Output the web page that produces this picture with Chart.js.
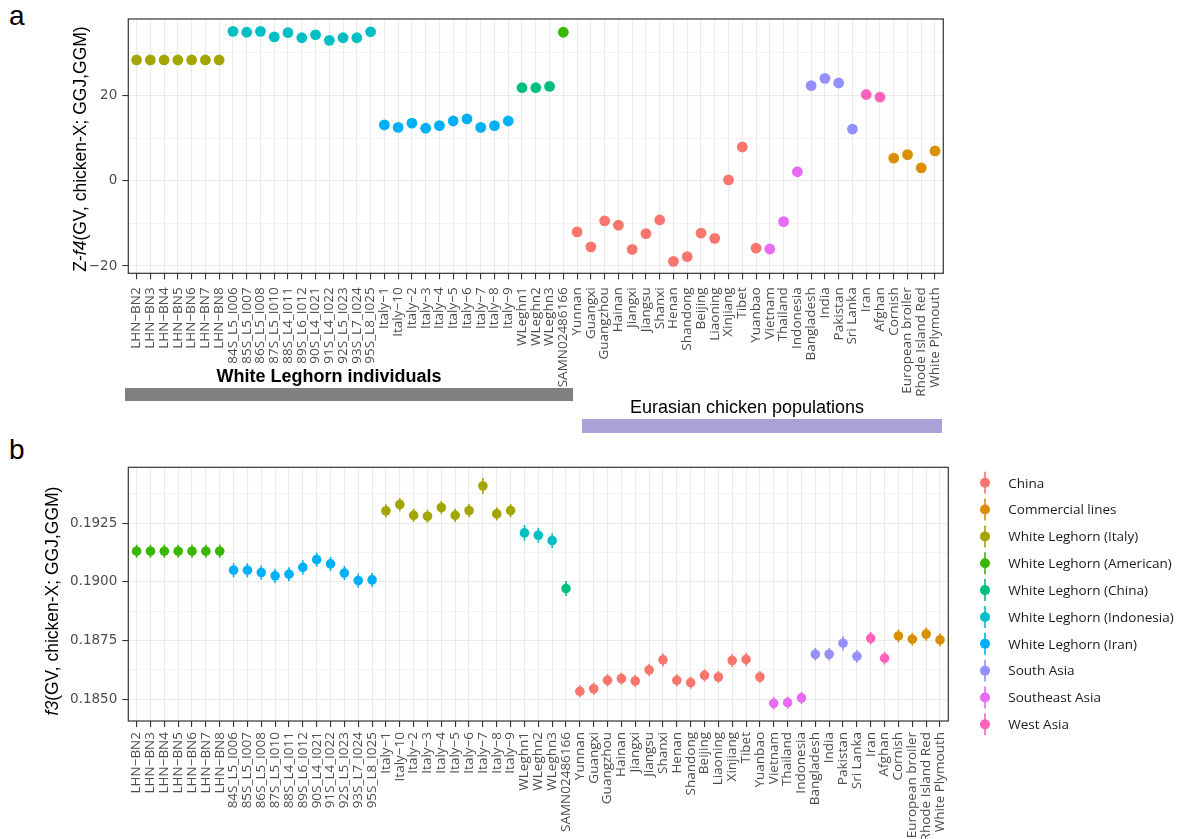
<!DOCTYPE html>
<html>
<head>
<meta charset="utf-8">
<script src="https://cdn.jsdelivr.net/npm/chart.js@4.4.1/dist/chart.umd.min.js"></script>
<style>
  html, body { margin: 0; padding: 0; background: #fff; }
  body { width: 1185px; height: 839px; position: relative; overflow: hidden;
         font-family: "Liberation Sans", Arial, sans-serif; }
  canvas { position: absolute; left: 0; }
  #chartA { top: 0; }
  #chartB { top: 430px; }
  .tag { position: absolute; font-size: 28px; line-height: 1; color: #000; }
  .band { position: absolute; }
  .band-label { position: absolute; font-size: 18px; line-height: 1; white-space: nowrap;
                transform: translateX(-50%); color: #000; }
</style>
</head>
<body>
<div class="tag" style="left:9px; top:2px;">a</div>
<div class="tag" style="left:9px; top:436px;">b</div>

<canvas id="chartA" width="1185" height="440"></canvas>
<canvas id="chartB" width="1185" height="409"></canvas>

<div class="band-label" style="left:329px; top:367px; font-weight:bold;">White Leghorn individuals</div>
<div class="band" style="left:125px; top:388px; width:448px; height:13px; background:#808080;"></div>
<div class="band-label" style="left:747px; top:398px;">Eurasian chicken populations</div>
<div class="band" style="left:582px; top:419px; width:360px; height:14px; background:#A9A2D6;"></div>

<script>
// ---- categories along the x axis ----
const categories = [
  'LHN−BN2','LHN−BN3','LHN−BN4','LHN−BN5','LHN−BN6','LHN−BN7','LHN−BN8',
  '84S_L5_I006','85S_L5_I007','86S_L5_I008','87S_L5_I010','88S_L4_I011','89S_L6_I012',
  '90S_L4_I021','91S_L4_I022','92S_L5_I023','93S_L7_I024','95S_L8_I025',
  'Italy−1','Italy−10','Italy−2','Italy−3','Italy−4','Italy−5','Italy−6','Italy−7','Italy−8','Italy−9',
  'WLeghn1','WLeghn2','WLeghn3','SAMN02486166',
  'Yunnan','Guangxi','Guangzhou','Hainan','Jiangxi','Jiangsu','Shanxi','Henan','Shandong',
  'Beijing','Liaoning','Xinjiang','Tibet','Yuanbao',
  'Vietnam','Thailand','Indonesia',
  'Bangladesh','India','Pakistan','Sri Lanka',
  'Iran','Afghan',
  'Cornish','European broiler','Rhode Island Red','White Plymouth'
];

// ---- groups (legend order) and their colours ----
const groupKeys   = ['CN','CL','WLIT','WLAM','WLCN','WLID','WLIR','SA','SEA','WA'];
const groupNames  = ['China','Commercial lines','White Leghorn (Italy)','White Leghorn (American)',
                     'White Leghorn (China)','White Leghorn (Indonesia)','White Leghorn (Iran)',
                     'South Asia','Southeast Asia','West Asia'];
const groupColors = ['#F8766D','#D89000','#A3A500','#39B600','#00BF7D','#00BFC4','#00B0F6',
                     '#9590FF','#E76BF3','#FF62BC'];

// group of each category, panel a
const groupA = [
  'WLIT','WLIT','WLIT','WLIT','WLIT','WLIT','WLIT',
  'WLID','WLID','WLID','WLID','WLID','WLID','WLID','WLID','WLID','WLID','WLID',
  'WLIR','WLIR','WLIR','WLIR','WLIR','WLIR','WLIR','WLIR','WLIR','WLIR',
  'WLCN','WLCN','WLCN','WLAM',
  'CN','CN','CN','CN','CN','CN','CN','CN','CN','CN','CN','CN','CN','CN',
  'SEA','SEA','SEA',
  'SA','SA','SA','SA',
  'WA','WA',
  'CL','CL','CL','CL'
];
// group of each category, panel b
const groupB = [
  'WLAM','WLAM','WLAM','WLAM','WLAM','WLAM','WLAM',
  'WLIR','WLIR','WLIR','WLIR','WLIR','WLIR','WLIR','WLIR','WLIR','WLIR','WLIR',
  'WLIT','WLIT','WLIT','WLIT','WLIT','WLIT','WLIT','WLIT','WLIT','WLIT',
  'WLID','WLID','WLID','WLCN',
  'CN','CN','CN','CN','CN','CN','CN','CN','CN','CN','CN','CN','CN','CN',
  'SEA','SEA','SEA',
  'SA','SA','SA','SA',
  'WA','WA',
  'CL','CL','CL','CL'
];

// ---- panel a: Z-f4 scores ----
const zF4 = [
  28.3, 28.3, 28.3, 28.3, 28.3, 28.3, 28.3,
  35.0, 34.8, 35.0, 33.7, 34.7, 33.5, 34.2, 32.9, 33.5, 33.5, 34.9,
  13.1, 12.5, 13.5, 12.3, 12.9, 14.0, 14.5, 12.5, 12.9, 14.0,
  21.8, 21.8, 22.1, 34.8,
  -12.0, -15.5, -9.4, -10.4, -16.1, -12.4, -9.2, -18.9, -17.8, -12.3, -13.5, 0.2, 7.9, -15.8,
  -16.0, -9.6, 2.1,
  22.3, 24.0, 22.9, 12.1,
  20.2, 19.6,
  5.3, 6.1, 3.0, 7.0
];

// ---- panel b: f3 statistics and their error half-widths ----
const f3 = [
  0.19131, 0.19131, 0.19131, 0.19131, 0.19131, 0.19131, 0.19131,
  0.19050, 0.19050, 0.19040, 0.19026, 0.19033, 0.19062, 0.19095, 0.19077, 0.19038, 0.19006, 0.19009,
  0.19303, 0.19330, 0.19284, 0.19280, 0.19317, 0.19284, 0.19304, 0.19409, 0.19290, 0.19304,
  0.19209, 0.19199, 0.19176, 0.18972,
  0.18534, 0.18545, 0.18581, 0.18588, 0.18578, 0.18625, 0.18668, 0.18581, 0.18571, 0.18602,
  0.18595, 0.18665, 0.18670, 0.18595,
  0.18483, 0.18486, 0.18506,
  0.18692, 0.18692, 0.18739, 0.18683,
  0.18760, 0.18675,
  0.18770, 0.18756, 0.18778, 0.18753
];
const f3Err = [
  0.00028, 0.00028, 0.00028, 0.00028, 0.00028, 0.00028, 0.00028,
  0.00030, 0.00030, 0.00030, 0.00030, 0.00030, 0.00030, 0.00030, 0.00030, 0.00030, 0.00030, 0.00030,
  0.00028, 0.00028, 0.00028, 0.00028, 0.00028, 0.00028, 0.00028, 0.00034, 0.00028, 0.00028,
  0.00034, 0.00032, 0.00032, 0.00032,
  0.00026, 0.00026, 0.00026, 0.00026, 0.00026, 0.00026, 0.00028, 0.00026, 0.00026, 0.00026,
  0.00026, 0.00028, 0.00028, 0.00026,
  0.00026, 0.00026, 0.00026,
  0.00027, 0.00027, 0.00030, 0.00027,
  0.00027, 0.00027,
  0.00028, 0.00027, 0.00028, 0.00028
];

// ---- y tick values ----
const yMajorA = [-20, 0, 20];
const yMinorA = [-10, 10, 30];
const yMajorB = [0.1850, 0.1875, 0.1900, 0.1925];
const yMinorB = [0.18625, 0.18875, 0.19125, 0.19375];

// ---------------------------------------------------------------
const GRID = '#EBEBEB';
const INK = '#333333';
const TICK_TEXT = '#4D4D4D';

function groupDatasets(groupOf, values, radius) {
  return groupKeys.map((key, g) => ({
    label: groupNames[g],
    data: categories.map((c, i) => ({ x: i, y: values[i] })).filter((p, i) => groupOf[i] === key),
    backgroundColor: groupColors[g],
    borderWidth: 0,
    pointRadius: radius,
    pointHoverRadius: radius,
    pointBorderWidth: 0
  })).filter(ds => ds.data.length > 0);
}

const keyOf = v => v.toFixed(5);

// panel border drawn over the plot
const framePlugin = {
  id: 'frame',
  afterDraw(chart) {
    const { ctx, chartArea: a } = chart;
    ctx.save();
    ctx.strokeStyle = INK;
    ctx.lineWidth = 1.2;
    ctx.strokeRect(a.left, a.top, a.right - a.left, a.bottom - a.top);
    ctx.restore();
  }
};

// rotated y-axis title with italic parts
const yTitlePlugin = {
  id: 'ytitle',
  afterDraw(chart, args, opts) {
    const ctx = chart.ctx;
    const size = opts.size;
    const fam = '"Liberation Sans", Arial, sans-serif';
    ctx.save();
    let total = 0;
    const widths = opts.segments.map(s => {
      ctx.font = (s.italic ? 'italic ' : '') + size + 'px ' + fam;
      const w = ctx.measureText(s.text).width;
      total += w;
      return w;
    });
    ctx.translate(opts.x, opts.y);
    ctx.rotate(-Math.PI / 2);
    ctx.fillStyle = '#000';
    ctx.textBaseline = 'middle';
    ctx.textAlign = 'left';
    let pos = -total / 2;
    opts.segments.forEach((s, i) => {
      ctx.font = (s.italic ? 'italic ' : '') + size + 'px ' + fam;
      ctx.fillText(s.text, pos, 0);
      pos += widths[i];
    });
    ctx.restore();
  }
};

// vertical error bars for panel b, placed through the chart scales
const errorBarPlugin = {
  id: 'errbars',
  beforeDatasetsDraw(chart) {
    const { ctx, scales: { x, y } } = chart;
    ctx.save();
    ctx.lineWidth = 1.6;
    categories.forEach((c, i) => {
      const g = groupKeys.indexOf(groupB[i]);
      const px = x.getPixelForValue(i);
      ctx.strokeStyle = groupColors[g];
      ctx.beginPath();
      ctx.moveTo(px, y.getPixelForValue(f3[i] - f3Err[i]));
      ctx.lineTo(px, y.getPixelForValue(f3[i] + f3Err[i]));
      ctx.stroke();
    });
    ctx.restore();
  }
};

// legend with point-range keys to the right of panel b
const keyLegendPlugin = {
  id: 'keylegend',
  afterDraw(chart, args, opts) {
    const { ctx, chartArea: a } = chart;
    ctx.save();
    ctx.font = '13.5px "Open Sans", sans-serif';
    ctx.textBaseline = 'middle';
    ctx.textAlign = 'left';
    groupNames.forEach((name, g) => {
      const cy = a.top + opts.firstOffset + g * opts.step;
      const cx = a.right + opts.keyOffset;
      ctx.strokeStyle = groupColors[g];
      ctx.fillStyle = groupColors[g];
      ctx.lineWidth = 1.6;
      ctx.beginPath();
      ctx.moveTo(cx, cy - 11);
      ctx.lineTo(cx, cy + 11);
      ctx.stroke();
      ctx.beginPath();
      ctx.arc(cx, cy, 5, 0, Math.PI * 2);
      ctx.fill();
      ctx.fillStyle = '#1A1A1A';
      ctx.fillText(name, a.right + opts.textOffset, cy + 1);
    });
    ctx.restore();
  }
};

function xScale(axisHeight, labelPad) {
  return {
    type: 'linear',
    min: -0.6,
    max: categories.length - 1 + 0.6,
    afterBuildTicks: s => { s.ticks = categories.map((c, i) => ({ value: i })); },
    afterFit: s => { s.height = axisHeight; },
    ticks: {
      autoSkip: false,
      minRotation: 90,
      maxRotation: 90,
      padding: labelPad,
      color: TICK_TEXT,
      font: { family: '"Open Sans", sans-serif', size: 13.5 },
      callback: v => categories[v]
    },
    grid: {
      color: GRID,
      lineWidth: 1.1,
      drawTicks: true,
      tickLength: 6,
      tickColor: INK,
      tickWidth: 1.1
    },
    border: { display: false }
  };
}

function yScale(min, max, major, minor, fmt, axisWidth) {
  const majorSet = new Set(major.map(keyOf));
  const isMajor = v => majorSet.has(keyOf(v));
  return {
    type: 'linear',
    min, max,
    afterBuildTicks: s => {
      s.ticks = major.concat(minor).sort((p, q) => p - q).map(v => ({ value: v }));
    },
    afterFit: s => { s.width = axisWidth; },
    ticks: {
      padding: 5,
      color: TICK_TEXT,
      font: { family: '"DejaVu Sans", sans-serif', size: 13.5 },
      callback: v => isMajor(v) ? fmt(v) : ''
    },
    grid: {
      color: GRID,
      lineWidth: c => (c.tick && isMajor(c.tick.value)) ? 1.1 : 0.6,
      drawTicks: true,
      tickLength: 6,
      tickColor: c => (c.tick && isMajor(c.tick.value)) ? INK : 'rgba(0,0,0,0)',
      tickWidth: 1.1
    },
    border: { display: false }
  };
}

// ---- panel a ----
new Chart(document.getElementById('chartA'), {
  type: 'scatter',
  data: { datasets: groupDatasets(groupA, zF4, 5.4) },
  options: {
    responsive: false,
    animation: false,
    events: [],
    layout: { padding: { top: 19, right: 241.7, bottom: 0, left: 0 } },
    scales: {
      x: xScale(166.7, 8),
      y: yScale(-21.7, 37.9, yMajorA, yMinorA,
                v => (v < 0 ? '\u2212' + Math.abs(v) : String(v)), 128.3)
    },
    plugins: {
      legend: { display: false },
      tooltip: { enabled: false },
      ytitle: {
        x: 81, y: 149, size: 17.5,
        segments: [
          { text: 'Z-', italic: false },
          { text: 'f4', italic: true },
          { text: '(GV, chicken-X; GGJ,GGM)', italic: false }
        ]
      }
    }
  },
  plugins: [framePlugin, yTitlePlugin]
});

// ---- panel b ----
new Chart(document.getElementById('chartB'), {
  type: 'scatter',
  data: { datasets: groupDatasets(groupB, f3, 4.8) },
  options: {
    responsive: false,
    animation: false,
    events: [],
    layout: { padding: { top: 37.3, right: 236.7, bottom: 0, left: 0 } },
    scales: {
      x: xScale(118, 5),
      y: yScale(0.184075, 0.194886, yMajorB, yMinorB, v => v.toFixed(4), 128.3)
    },
    plugins: {
      legend: { display: false },
      tooltip: { enabled: false },
      ytitle: {
        x: 53, y: 171, size: 17.5,
        segments: [
          { text: 'f3', italic: true },
          { text: '(GV, chicken-X; GGJ,GGM)', italic: false }
        ]
      },
      keylegend: { keyOffset: 36.7, textOffset: 60, firstOffset: 15.4, step: 26.85 }
    }
  },
  plugins: [errorBarPlugin, framePlugin, yTitlePlugin, keyLegendPlugin]
});
</script>
</body>
</html>
